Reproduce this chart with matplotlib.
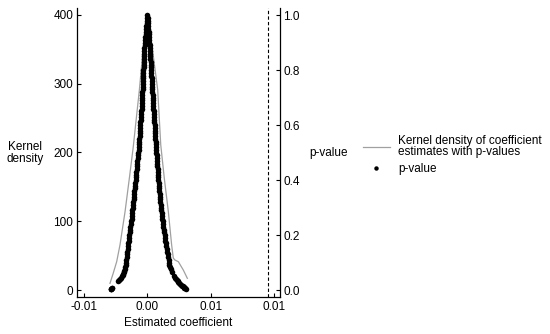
import matplotlib
matplotlib.use("Agg")
import matplotlib.pyplot as plt

plt.rcParams['font.family'] = ['Liberation Sans', 'DejaVu Sans']

# Kernel density of coefficient estimates (gray line)
kde_x = [-0.00295, -0.00270, -0.00242, -0.00216, -0.00176, -0.00142, -0.00111,
         -0.00063, -0.00034, 0.00000, 0.00034, 0.00082, 0.00106, 0.00134,
         0.00166, 0.00192, 0.00205, 0.00218, 0.00245, 0.00284, 0.00316]
kde_y = [9.7, 24.0, 41.2, 65.5, 113.9, 162.5, 208.4,
         290.9, 349.0, 392.0, 359.0, 291.0, 211.0, 162.5,
         113.9, 65.5, 46.5, 43.6, 41.2, 29.1, 17.0]

# p-values of coefficient estimates (black dots) - left branch
left_p = [1.00, 0.99, 0.98, 0.97, 0.96, 0.95, 0.94, 0.93, 0.92, 0.91,
          0.90, 0.89, 0.88, 0.87, 0.86, 0.85, 0.84, 0.83, 0.82, 0.81,
          0.80, 0.79, 0.78, 0.77, 0.76, 0.75, 0.74, 0.73, 0.72, 0.71,
          0.70, 0.69, 0.68, 0.67, 0.66, 0.65, 0.64, 0.63, 0.62, 0.61,
          0.60, 0.59, 0.58, 0.57, 0.56, 0.55, 0.54, 0.53, 0.52, 0.51,
          0.50, 0.49, 0.48, 0.47, 0.46, 0.45, 0.44, 0.43, 0.42, 0.41,
          0.40, 0.39, 0.38, 0.37, 0.36, 0.35, 0.34, 0.33, 0.32, 0.31,
          0.30, 0.29, 0.28, 0.27, 0.26, 0.25, 0.24, 0.23, 0.22, 0.21,
          0.20, 0.19, 0.18, 0.17, 0.16, 0.15, 0.14, 0.13, 0.12, 0.11,
          0.10, 0.092, 0.085, 0.077, 0.070, 0.065, 0.060, 0.055, 0.050, 0.045,
          0.040, 0.036, 0.033, 0.009, 0.007, 0.005, 0.004, 0.003]
left_coef = [0.00000, -0.00002, -0.00004, -0.00006, -0.00008, -0.00010, -0.00011, -0.00013, -0.00015, -0.00017,
             -0.00019, -0.00021, -0.00023, -0.00024, -0.00025, -0.00026, -0.00027, -0.00028, -0.00029, -0.00030,
             -0.00031, -0.00032, -0.00033, -0.00034, -0.00035, -0.00036, -0.00037, -0.00038, -0.00039, -0.00040,
             -0.00041, -0.00043, -0.00044, -0.00045, -0.00046, -0.00048, -0.00049, -0.00051, -0.00052, -0.00054,
             -0.00055, -0.00057, -0.00058, -0.00059, -0.00060, -0.00062, -0.00063, -0.00065, -0.00066, -0.00069,
             -0.00071, -0.00073, -0.00075, -0.00078, -0.00080, -0.00082, -0.00084, -0.00087, -0.00089, -0.00091,
             -0.00093, -0.00096, -0.00098, -0.00100, -0.00102, -0.00105, -0.00107, -0.00109, -0.00111, -0.00114,
             -0.00116, -0.00118, -0.00120, -0.00123, -0.00125, -0.00128, -0.00131, -0.00134, -0.00136, -0.00139,
             -0.00141, -0.00144, -0.00146, -0.00149, -0.00151, -0.00154, -0.00157, -0.00160, -0.00163, -0.00166,
             -0.00169, -0.00172, -0.00176, -0.00180, -0.00184, -0.00187, -0.00189, -0.00194, -0.00200, -0.00207,
             -0.00215, -0.00223, -0.00232, -0.00278, -0.00281, -0.00284, -0.00287, -0.00290]

# right branch
right_p = [0.99, 0.98, 0.97, 0.96, 0.95, 0.94, 0.93, 0.92, 0.91, 0.90,
           0.89, 0.88, 0.87, 0.86, 0.85, 0.84, 0.83, 0.82, 0.81, 0.80,
           0.79, 0.78, 0.77, 0.76, 0.75, 0.74, 0.73, 0.72, 0.71, 0.70,
           0.69, 0.68, 0.67, 0.66, 0.65, 0.64, 0.63, 0.62, 0.61, 0.60,
           0.59, 0.58, 0.57, 0.56, 0.55, 0.54, 0.53, 0.52, 0.51, 0.50,
           0.49, 0.48, 0.47, 0.46, 0.45, 0.44, 0.43, 0.42, 0.41, 0.40,
           0.39, 0.38, 0.37, 0.36, 0.35, 0.34, 0.33, 0.32, 0.31, 0.30,
           0.29, 0.28, 0.27, 0.26, 0.25, 0.24, 0.23, 0.22, 0.21, 0.20,
           0.19, 0.18, 0.17, 0.16, 0.15, 0.14, 0.13, 0.12, 0.11, 0.10,
           0.092, 0.085, 0.076, 0.067, 0.051, 0.045, 0.041, 0.038, 0.034, 0.030,
           0.026, 0.023, 0.019, 0.016, 0.013, 0.010, 0.008, 0.006, 0.004]
right_coef = [0.00002, 0.00003, 0.00005, 0.00007, 0.00009, 0.00010, 0.00012, 0.00014, 0.00016, 0.00017,
              0.00019, 0.00020, 0.00022, 0.00023, 0.00024, 0.00025, 0.00027, 0.00028, 0.00029, 0.00030,
              0.00031, 0.00032, 0.00033, 0.00034, 0.00036, 0.00037, 0.00039, 0.00040, 0.00042, 0.00043,
              0.00044, 0.00045, 0.00047, 0.00048, 0.00050, 0.00051, 0.00053, 0.00054, 0.00056, 0.00057,
              0.00059, 0.00060, 0.00061, 0.00062, 0.00064, 0.00065, 0.00067, 0.00068, 0.00070, 0.00071,
              0.00073, 0.00075, 0.00077, 0.00078, 0.00080, 0.00081, 0.00083, 0.00085, 0.00087, 0.00088,
              0.00090, 0.00092, 0.00094, 0.00096, 0.00098, 0.00100, 0.00102, 0.00104, 0.00106, 0.00108,
              0.00110, 0.00113, 0.00115, 0.00118, 0.00121, 0.00124, 0.00127, 0.00130, 0.00133, 0.00136,
              0.00140, 0.00143, 0.00147, 0.00150, 0.00154, 0.00158, 0.00161, 0.00164, 0.00168, 0.00172,
              0.00175, 0.00178, 0.00184, 0.00192, 0.00214, 0.00222, 0.00227, 0.00232, 0.00239, 0.00246,
              0.00253, 0.00260, 0.00268, 0.00275, 0.00281, 0.00288, 0.00293, 0.00298, 0.00305]

ref_line = 0.00955

x_ticks = [-0.005, 0.0, 0.005, 0.010]
x_ticklabels = ["-0.01", "0.00", "0.01", "0.01"]
y_ticks = [0, 100, 200, 300, 400]
p_ticks = [0.0, 0.2, 0.4, 0.6, 0.8, 1.0]
p_ticklabels = ["0.0", "0.2", "0.4", "0.6", "0.8", "1.0"]

FS = 8.5
fig = plt.figure(figsize=(5.5, 3.34), dpi=100)
ax = fig.add_axes([0.1395, 0.1099, 0.3695, 0.8652])
ax2 = ax.twinx()

line, = ax.plot(kde_x, kde_y, color='#a0a0a0', lw=0.9,
                label="Kernel density of coefficient\nestimates with p-values")
ax2.axvline(ref_line, color='black', lw=0.8, linestyle=(0, (3, 2)))
dots, = ax2.plot(left_coef + right_coef, left_p + right_p, 'o', color='black',
                 ms=4.0, mew=0, linestyle='none', label="p-value")

ax.set_xlim(-0.005576, 0.010474)
ax.set_ylim(-10.6, 409.7)
ax2.set_ylim(-0.0265, 1.0244)

ax.set_xticks(x_ticks)
ax.set_xticklabels(x_ticklabels)
ax.set_yticks(y_ticks)
ax2.set_yticks(p_ticks)
ax2.set_yticklabels(p_ticklabels)

for a in (ax, ax2):
    a.spines['top'].set_visible(False)
    for s in a.spines.values():
        s.set_linewidth(0.9)
ax.spines['right'].set_visible(False)
ax2.spines['left'].set_visible(False)
ax2.spines['bottom'].set_visible(False)

ax.tick_params(axis='both', direction='in', length=3, width=0.8, labelsize=FS, pad=2.5)
ax2.tick_params(axis='y', direction='in', length=3, width=0.8, labelsize=FS, pad=2.5)

ax.set_xlabel("Estimated coefficient", fontsize=FS, labelpad=3)
fig.text(0.0455, 0.542, "Kernel\ndensity", ha='center', va='center',
         fontsize=FS, linespacing=1.0)
fig.text(0.598, 0.542, "p-value", ha='center', va='center', fontsize=FS)

leg = fig.legend([line, dots], [line.get_label(), dots.get_label()],
                 loc='upper left', bbox_to_anchor=(0.6595, 0.597),
                 frameon=False, fontsize=FS, handlelength=2.3,
                 handletextpad=0.7, borderpad=0, borderaxespad=0,
                 labelspacing=0.4, markerscale=0.8)
for t in leg.get_texts():
    t.set_linespacing(0.95)

fig.savefig("out.png", dpi=100)
